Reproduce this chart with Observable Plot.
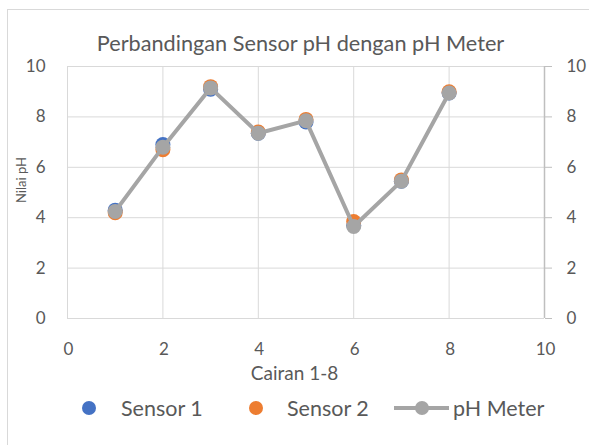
<!DOCTYPE html>
<html><head><meta charset="utf-8">
<script src="https://cdn.jsdelivr.net/npm/d3@7"></script>
<script src="https://cdn.jsdelivr.net/npm/@observablehq/plot@0.6"></script>
<style>
body{margin:0;background:#fff;font-family:Lato,"Open Sans",sans-serif;}
#wrap{position:relative;width:589px;height:445px;overflow:hidden;background:#fff;}
#frame{position:absolute;left:7px;top:9px;width:640px;height:480px;border:1px solid #d9d9d9;box-sizing:border-box;}
#title{position:absolute;top:30px;left:0;width:601px;text-align:center;font-size:21.7px;line-height:1.2;color:#595959;white-space:nowrap;}
#chart{position:absolute;left:0;top:0;}
.lbl{position:absolute;color:#595959;white-space:nowrap;line-height:1.2;}
.leg{position:absolute;top:396px;font-size:21.5px;line-height:1.2;color:#595959;white-space:nowrap;}
.dot{position:absolute;border-radius:50%;width:14px;height:14px;}
</style></head>
<body>
<div id="wrap">
  <div id="frame"></div>
  <div id="title">Perbandingan Sensor pH dengan pH Meter</div>
  <div id="chart"></div>
  <div class="lbl" style="left:0;width:589px;text-align:center;top:362px;font-size:19px;"><span style="position:relative;left:0px;display:inline-block;transform:translateX(0px);">Cairan 1-8</span></div>
  <div class="lbl" style="left:22px;top:180px;font-size:13px;transform:translate(-50%,-50%) rotate(-90deg);">Nilai pH</div>
  <div id="legend"></div>
</div>
<script>
const cairan = [1, 2, 3, 4, 5, 6, 7, 8];
const sensor1 = [4.3, 6.9, 9.1, 7.35, 7.8, 3.7, 5.45, 8.95];
const sensor2 = [4.2, 6.7, 9.2, 7.4, 7.9, 3.85, 5.5, 9.0];
const phMeter = [4.25, 6.8, 9.15, 7.35, 7.85, 3.65, 5.45, 8.95];
const xTicks = [0, 2, 4, 6, 8, 10];
const yTicks = [0, 2, 4, 6, 8, 10];
const seriesNames = ["Sensor 1", "Sensor 2", "pH Meter"];
const colors = ["#4472C4", "#ED7D31", "#A5A5A5"];

const rows = cairan.map((c, i) => ({c, s1: sensor1[i], s2: sensor2[i], ph: phMeter[i]}));

const plot = Plot.plot({
  width: 589, height: 390,
  marginLeft: 67, marginRight: 45, marginTop: 66, marginBottom: 72,
  x: {domain: [0, 10]},
  y: {domain: [0, 10]},
  style: {fontFamily: "Lato, 'Open Sans', sans-serif", fontSize: "17px", color: "#595959", background: "transparent"},
  marks: [
    Plot.gridX(xTicks, {stroke: "#d9d9d9", strokeOpacity: 1, strokeWidth: 1}),
    Plot.gridY(yTicks, {stroke: "#d9d9d9", strokeOpacity: 1, strokeWidth: 1}),
    Plot.ruleX([10], {stroke: "#bfbfbf", strokeWidth: 1.5}),
    Plot.axisX(xTicks, {tickSize: 0, tickPadding: 24, label: null, fill: "#595959", dx: 1}),
    Plot.axisY(yTicks, {anchor: "left", tickSize: 0, tickPadding: 22, label: null, fill: "#595959"}),
    Plot.axisY(yTicks, {anchor: "right", tickSize: 7, tickPadding: 15, label: null, stroke: "#bfbfbf", fill: "#595959"}),
    Plot.dot(rows, {x: "c", y: "s1", r: 7.5, fill: colors[0]}),
    Plot.dot(rows, {x: "c", y: "s2", r: 7.5, fill: colors[1]}),
    Plot.line(rows, {x: "c", y: "ph", stroke: colors[2], strokeWidth: 4}),
    Plot.dot(rows, {x: "c", y: "ph", r: 7.5, fill: colors[2]})
  ]
});
document.getElementById("chart").append(plot);

const legend = document.getElementById("legend");
const legendPos = [{dot: 82, text: 121}, {dot: 249, text: 287}];
legendPos.forEach((p, i) => {
  const d = document.createElement("div");
  d.className = "dot";
  d.style.cssText = `left:${p.dot}px;top:401px;background:${colors[i]};`;
  legend.append(d);
  const t = document.createElement("div");
  t.className = "leg";
  t.style.left = p.text + "px";
  t.textContent = seriesNames[i];
  legend.append(t);
});
const ln = document.createElement("div");
ln.style.cssText = `position:absolute;left:394px;top:406px;width:55px;height:4px;background:${colors[2]};`;
legend.append(ln);
const ld = document.createElement("div");
ld.className = "dot";
ld.style.cssText = `left:415px;top:401px;background:${colors[2]};`;
legend.append(ld);
const lt = document.createElement("div");
lt.className = "leg";
lt.style.left = "453px";
lt.textContent = seriesNames[2];
legend.append(lt);
</script>
</body></html>
